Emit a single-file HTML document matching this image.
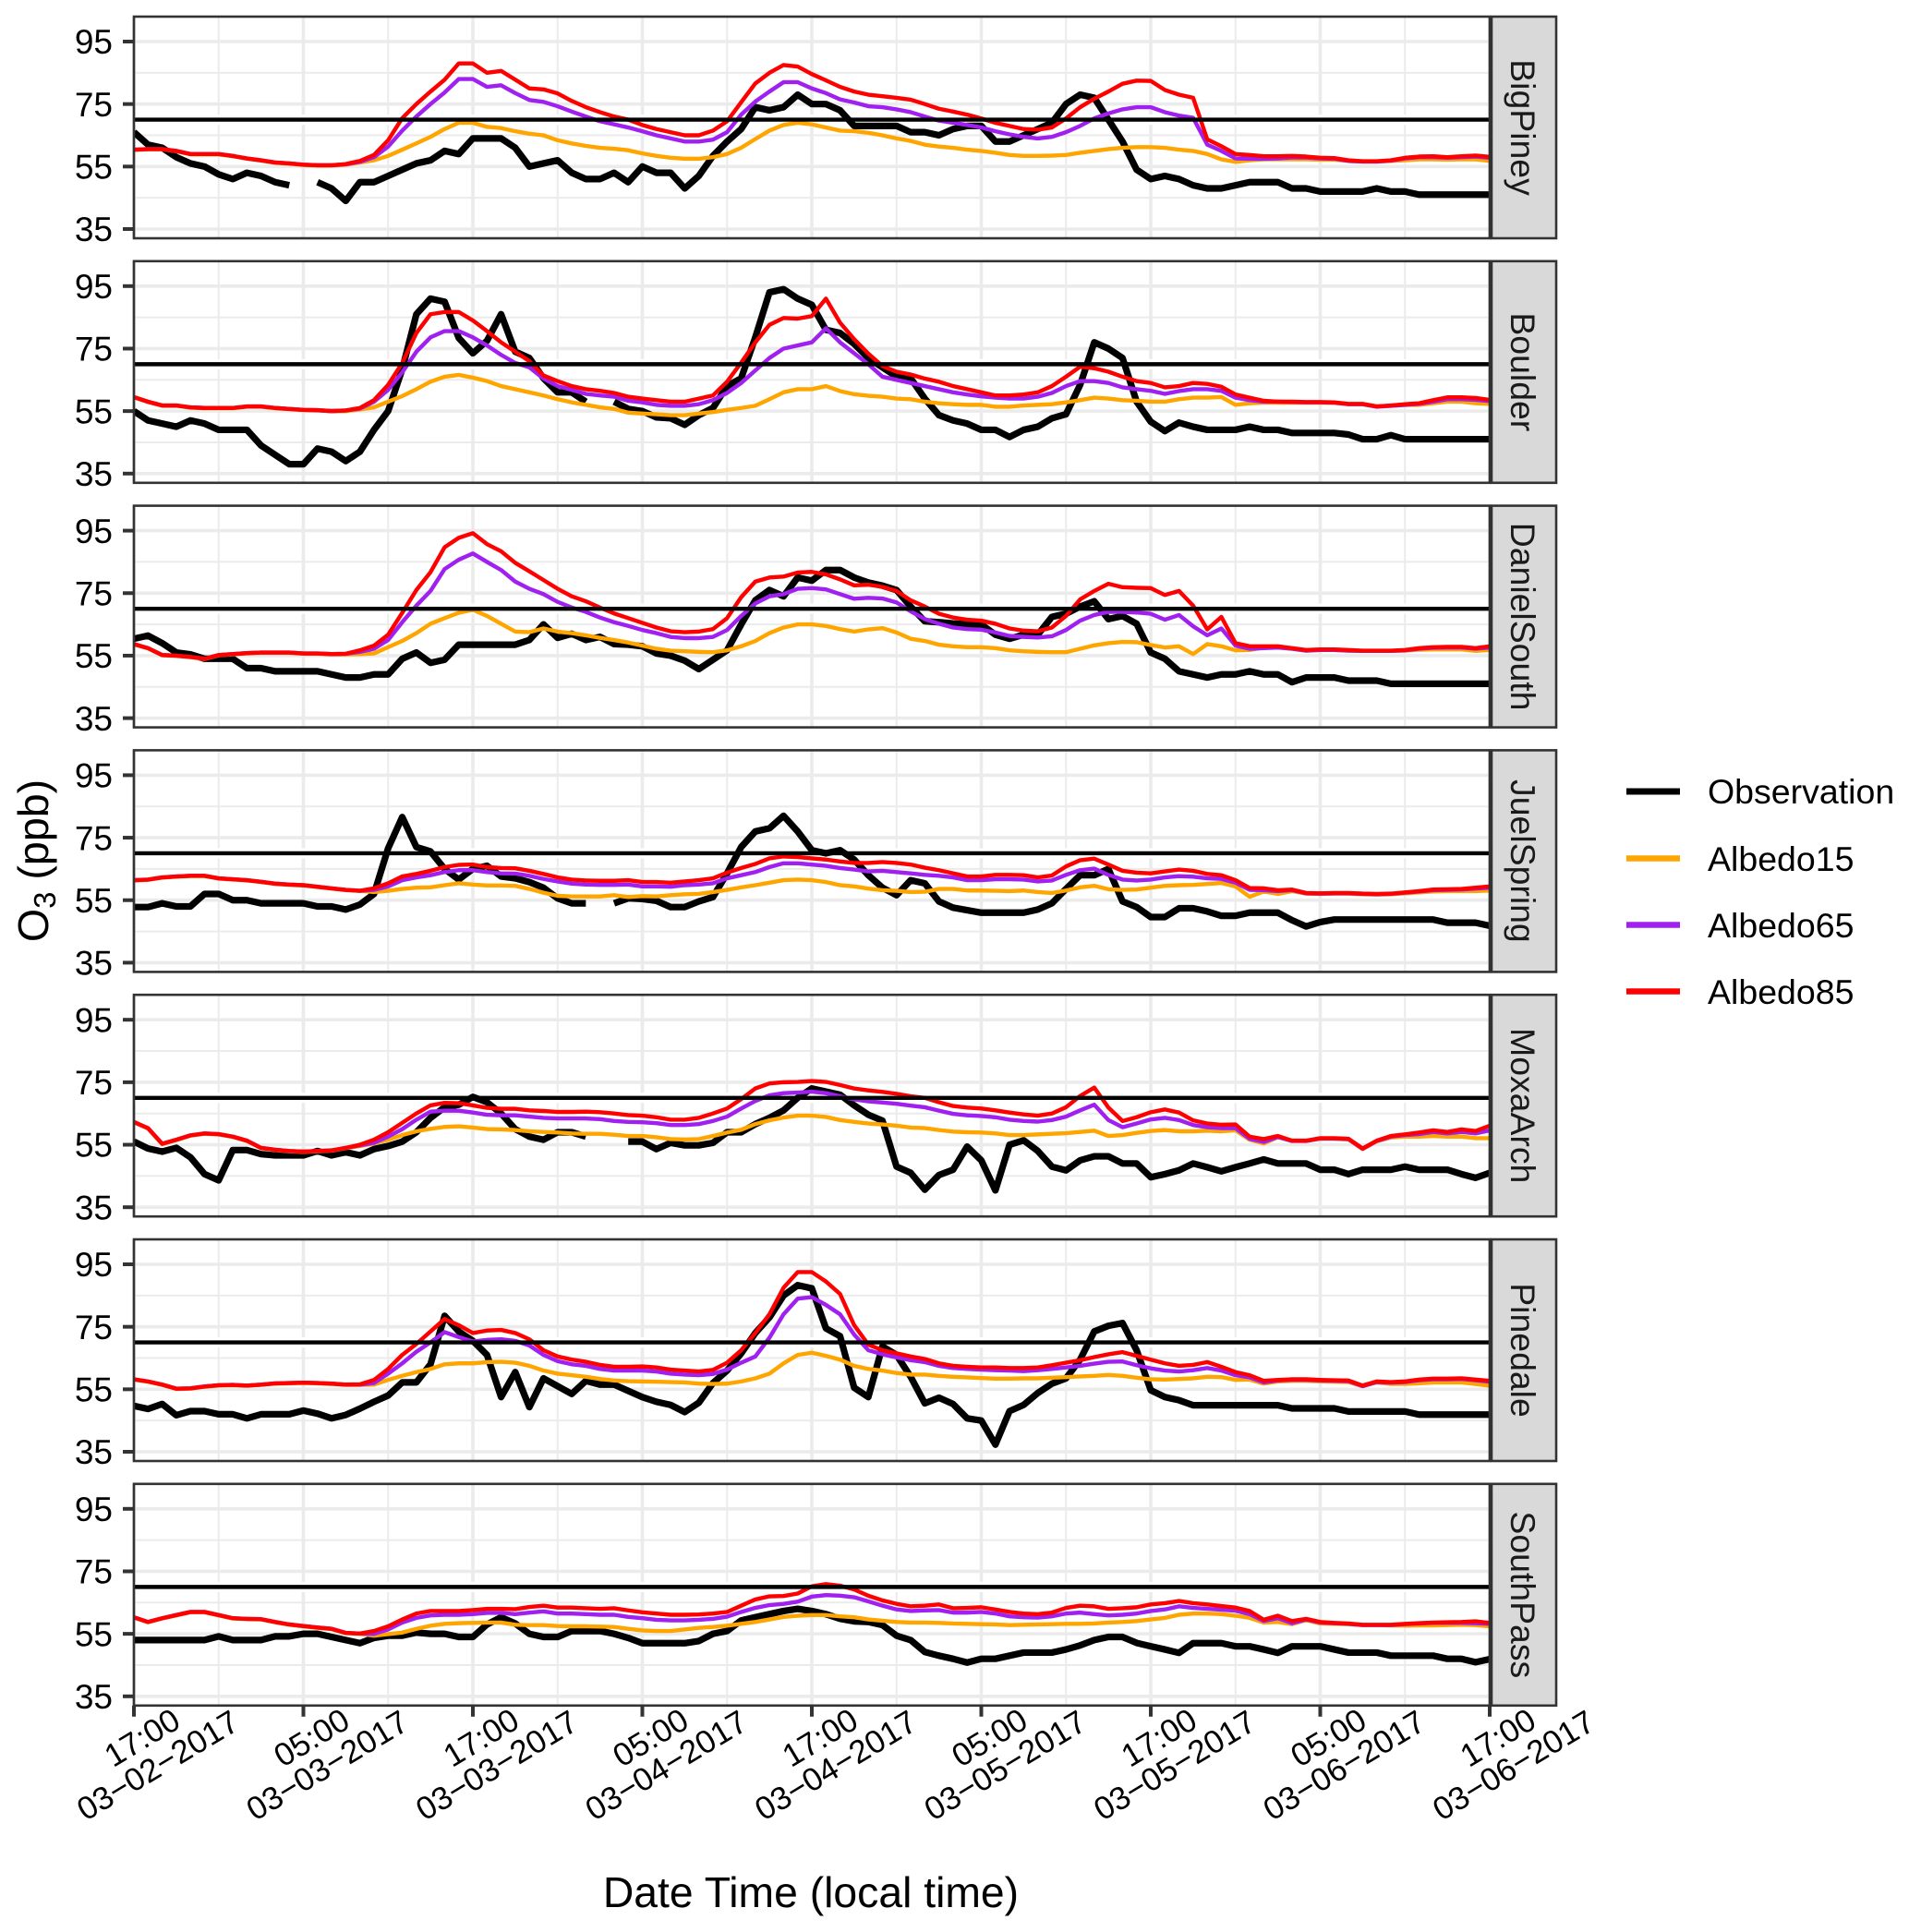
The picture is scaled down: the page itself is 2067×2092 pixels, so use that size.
<!DOCTYPE html>
<html lang="en">
<head>
<meta charset="utf-8">
<title>Ozone observations and Albedo model runs by site</title>
<style>
html,body{margin:0;padding:0;background:#fff;}
svg{display:block;font-family:"Liberation Sans",Arial,sans-serif;}
</style>
</head>
<body>
<svg id="chart" xmlns="http://www.w3.org/2000/svg" width="2067" height="2092" viewBox="0 0 2067 2092">
  <rect x="0" y="0" width="2067" height="2092" fill="#fff"/>
  <g id="panels"></g>
  <g id="xaxis"></g>
  <text x="878" y="2065" font-size="46.3" text-anchor="middle" fill="#000">Date Time (local time)</text>
  <text transform="translate(52,932) rotate(-90)" font-size="46.6" text-anchor="middle" fill="#000">O<tspan font-size="33" dy="8">3</tspan><tspan dy="-8"> (ppb)</tspan></text>
  <g>
    <g>
      <line x1="1761" x2="1819" y1="857" y2="857" stroke="#000" stroke-width="7"/>
      <text x="1849" y="870" font-size="37.5" fill="#000">Observation</text>
    </g>
    <g>
      <line x1="1761" x2="1819" y1="929.5" y2="929.5" stroke="#FFA500" stroke-width="6.5"/>
      <text x="1849" y="943" font-size="37.5" fill="#000">Albedo15</text>
    </g>
    <g>
      <line x1="1761" x2="1819" y1="1001.5" y2="1001.5" stroke="#A020F0" stroke-width="6.5"/>
      <text x="1849" y="1015" font-size="37.5" fill="#000">Albedo65</text>
    </g>
    <g>
      <line x1="1761" x2="1819" y1="1073.5" y2="1073.5" stroke="#FF0000" stroke-width="6.5"/>
      <text x="1849" y="1087" font-size="37.5" fill="#000">Albedo85</text>
    </g>
  </g>
</svg>
<script>
// ---------- categories and tick labels ----------
const sites = ["BigPiney","Boulder","DanielSouth","JuelSpring","MoxaArch","Pinedale","SouthPass"];
const seriesNames = ["Observation","Albedo15","Albedo65","Albedo85"];
const yMajorTicks = [35,55,75,95];
const yMinorTicks = [45,65,85];
const xMajorHours = [0,12,24,36,48,60,72,84,96];
const xMinorHours = [6,18,30,42,54,66,78,90];
const xTickTimes = ["17:00","05:00","17:00","05:00","17:00","05:00","17:00","05:00","17:00"];
const xTickDates = ["03−02−2017","03−03−2017","03−03−2017","03−04−2017","03−04−2017","03−05−2017","03−05−2017","03−06−2017","03−06−2017"];
const ozoneStandard = 70;

// ---------- hourly ozone values (ppb), 97 per series ----------
const bigPineyObservation = [
66,62,61,58,56,55,52.5,51,53,52,50,49,
null,50,48,44,50,50,52,54,56,57,60,59,
64,64,64,61,55,56,57,53,51,51,53,50,
55,53,53,48,52,58.4,63,67,74,73,74,78,
75,75,73,68,68,68,68,66,66,65,67,68,
68,63,63,65,67,69,75,78,77,70,63,54,
51,52,51,49,48,48,49,50,50,50,48,48,
47,47,47,47,48,47,47,46,46,46,46,46,
46];
const bigPineyAlbedo15 = [
60.3,60.5,60.5,59.9,58.9,58.9,58.9,58.3,57.5,56.9,56.2,55.9,
55.5,55.3,55.3,55.6,56.3,57,58.4,60.4,62.4,64.5,67,69,
69,67.7,67.3,66.3,65.5,65,63.4,62.4,61.6,61,60.7,60.2,
59.2,58.4,57.8,57.5,57.5,58,59,61,63.8,66.5,68.3,69,
68.5,67.5,66.5,66.3,65.8,65,64,63.2,62,61.4,61,60.4,
60,59.4,58.7,58.4,58.4,58.5,58.7,59.4,60,60.6,61,61.2,
61.2,61,60.4,60,59,57.3,56.5,57,57.3,57.3,57.3,57.3,
57.2,57.2,56.8,56.6,56.6,56.8,57,57.3,57.3,57.2,57.3,57.3,
56.8];
const bigPineyAlbedo65 = [
60.4,60.6,60.6,60,59,59,59,58.4,57.6,57,56.3,56,
55.6,55.4,55.4,55.7,56.5,58,61.4,66.5,71,75,78.7,83,
83,80.5,81,78.5,76.3,75.7,74.3,72.6,71,69.5,68.5,67.5,
66.3,65,64,63,63,63.6,66,71.6,75.8,79,82,82,
80,78.5,76.5,75.5,74.3,74,73.3,72.4,71,69.7,69,68.3,
67.5,66.3,65.3,64.5,64,64.5,66,68,70.4,72,73.3,74,
74,72.4,71.3,70.6,62,60,57.6,57.5,57.5,57.6,57.9,57.9,
57.6,57.5,56.8,56.6,56.6,56.9,57.6,58,58,57.8,58,58.2,
57.8];
const bigPineyAlbedo85 = [
60.4,60.6,60.6,60,59,59,59,58.4,57.6,57,56.3,56,
55.6,55.4,55.4,55.8,56.8,58.7,63.4,70.5,75,79,82.8,88,
88,85,85.6,82.8,80,79.7,78.4,76,74,72.4,71,70,
68.3,67,66,65,65,66.5,69.5,75.6,81.6,85,87.5,87,
84.6,82.6,80.5,79,78,77.5,77,76.4,75,73.5,72.6,71.6,
70.4,69,68,67,66.8,67.5,70.4,74,76.7,79,81.5,82.5,
82.4,79.5,78,77,63.7,61.5,59,58.7,58.3,58.3,58.4,58.2,
57.8,57.7,57,56.7,56.7,57,57.8,58.2,58.3,58,58.3,58.5,
58.1];

const boulderObservation = [
55,52,51,50,52,51,49,49,49,44,41,38,
38,43,42,39,42,49,55,68.4,86,91,90,78.4,
73.5,77.5,86,74,72,65.5,61,61,58,null,58,55.7,
55,53,52.7,50.6,53.7,56,63,65.5,78.6,93,94,91,
89,81,80,76.5,72,69,66,65.5,59,53.7,52,51,
49,49,46.7,49,50,52.7,54,63.4,77,75,72,58,
51.6,48.6,51.3,50,49,49,49,50,49,49,48,48,
48,48,47.5,46,46,47.3,46,46,46,46,46,46,
46];
const boulderAlbedo15 = [
59.4,57.9,56.7,56.7,56.1,55.9,55.9,55.9,56.4,56.4,55.9,55.6,
55.3,55.2,55,55,55.5,56.2,58,59.8,62,64.4,66,66.6,
65.7,64.6,63,62,61,60,58.8,57.8,57,56.2,55.7,54.5,
54.2,54,53.7,53.7,54.2,54.7,55.4,56,56.7,58.8,61,62,
62,63,61.4,60.4,59.9,59.6,59,58.8,58,57.5,57.2,57,
57,56.4,56.4,56.8,57,57.2,57.8,58.5,59.3,59,58.5,58.3,
58,58,58.8,59.3,59.3,59.5,57,57.5,57.7,57.7,57.7,57.7,
57.7,57.6,57.2,57.2,56.5,56.7,57,57,57.5,58,58,57.5,
57.3];
const boulderAlbedo65 = [
59.5,58,56.8,56.8,56.2,56,56,56,56.5,56.5,56,55.7,
55.4,55.3,55,55.2,55.8,58,61.8,67.4,74,78.6,80.6,80.6,
78.6,76,73,70.4,69,65.4,63,61.8,60.5,60,59.6,58.3,
57.8,57,56.7,56.7,57.2,58.5,60.8,64,68,72,75,76,
77,81.5,77,73.5,70,66,65,64,63,62,61,60.3,
59.7,59.3,59,59,59.6,60.8,63,64.6,64.6,64,62.6,62,
61.5,60.5,61.4,62,62,61.5,59.3,58.5,58,58,57.9,57.8,
57.8,57.7,57.2,57.2,56.4,56.7,57,57.3,58,58.8,58.8,58.6,
58.2];
const boulderAlbedo85 = [
59.5,58,56.8,56.8,56.2,56,56,56,56.5,56.5,56,55.7,
55.4,55.3,55,55.2,56,58.5,63.4,70.4,80,86,86.7,86.7,
84,80.6,77,74,71,66.4,64.6,63,62,61.5,60.8,59.6,
59,58.5,58,58,59,60,64.4,70.5,77,82.6,84.8,84.6,
85.4,91,83.3,78,73.4,69.4,67.6,66.7,65.4,64.4,63,62,
61,60,60,60.3,61,63,66,69.2,68.7,67.6,66,64.6,
64,62.6,63,64,63.7,62.8,60.3,59.3,58.3,58,58,57.9,
57.9,57.8,57.3,57.3,56.5,56.8,57.2,57.5,58.5,59.4,59.4,59.2,
58.6];

const danielSouthObservation = [
60.4,61.4,59,56,55.4,54,54,54,51,51,50,50,
50,50,49,48,48,49,49,54,56,52.7,53.7,58.5,
58.5,58.5,58.5,58.5,60,65,60.7,62,60,61,58.7,58.5,
58,55.7,55,53.4,50.7,53.7,56.7,65,72.7,76,74,80,
79,82.4,82.4,80,78.4,77.4,76,70.7,66,65.7,65.3,65,
65,61.7,60.4,61.7,61.7,67.4,68.4,70.7,72.4,66.7,67.7,65.2,
56,54,50,49,48,49,49,50,49,49,46.5,48,
48,48,47,47,47,46,46,46,46,46,46,46,
46];
const danielSouthAlbedo15 = [
58.6,57.3,55.1,54.9,54.5,53.9,55.1,55.4,55.7,55.9,55.9,55.9,
55.6,55.6,55.4,55.4,55.5,55.7,57.7,59.7,62.2,65.2,67,68.7,
69.7,67.7,65.2,62.7,62.5,63.7,62.7,62.2,61.5,60.7,60,59.2,
58.2,57.2,56.6,56.4,56.2,56.1,56.7,58,59.7,62.2,64,65,
65,64.5,63.5,62.7,63.4,63.8,62.4,60.4,59.7,58.5,58,57.7,
57.7,57.4,56.7,56.4,56.2,56.1,56.1,57.2,58.3,59,59.4,59.3,
58.4,57.6,58,55.5,58.7,58,56.7,56.8,57.6,57.8,57.2,56.6,
56.8,56.8,56.6,56.5,56.5,56.5,56.6,56.9,57,57,57,56.5,
56.8];
const danielSouthAlbedo65 = [
58.7,57.4,55.2,55,54.6,54,55.2,55.5,55.8,56,56,56,
55.7,55.7,55.5,55.6,56.2,57.2,60,65.7,71,75.7,82.7,85.7,
87.7,85,82.4,78.7,76.4,74.7,72.2,70.4,69,67.2,65.7,64.5,
63.2,62.2,61,60.6,60.6,61,63.2,67.7,71.7,74,74.7,76.4,
76.6,76.2,74.7,73.2,73.5,73.3,72,69.2,66.7,65.2,64,63.5,
63.3,62.4,61.3,61,60.8,61.2,63.2,66.2,68,69,69,68.8,
68.4,66.5,68,64.4,61.5,63.7,58.2,57.2,57.4,57.6,57.2,56.6,
56.8,56.8,56.6,56.5,56.5,56.5,56.7,57.2,57.5,57.6,57.6,57.2,
57.6];
const danielSouthAlbedo85 = [
58.7,57.4,55.2,55,54.6,54,55.2,55.5,55.8,56,56,56,
55.7,55.7,55.5,55.6,56.7,58.2,61.7,68.7,76,81.7,89.7,92.7,
94.2,90.7,88.4,84.7,82,79.2,76.4,74,72.4,70.4,68.5,67,
65.5,64,62.8,62.5,62.7,63.5,67,73.7,78.7,80,80.3,81.6,
81.8,81,79.4,77.5,77.7,77,75.7,72.7,70.7,68.4,67.2,66.5,
66.2,65.2,63.7,63,62.8,64,67.7,73,75.7,78,76.9,76.7,
76.6,74.4,75.7,71,63.4,67.4,59,58,58,58,57.4,56.8,
57,57,56.8,56.6,56.6,56.6,56.8,57.4,57.7,57.8,57.8,57.4,
58];

const juelSpringObservation = [
52.8,52.8,54,53,53,57,57,55,55,54,54,54,
54,53,53,52,53.6,57,71.6,81.6,72,70.6,65,61.6,
65,66,62.6,62,60.8,59,55.6,54,54,null,54,55.6,
55.4,54.8,52.8,52.8,54.6,56,63.6,72,77,78,82,77,
71,70,71,68,63,59,56.6,61.4,60.4,54.6,52.6,51.8,
51,51,51,51,52,54,58.6,63,63,65,54.6,52.8,
49.6,49.6,52.4,52.4,51.4,50,50,51,51,51,48.6,46.6,
48,48.8,48.8,48.8,48.8,48.8,48.8,48.8,48.8,47.8,47.8,47.8,
46.8];
const juelSpringAlbedo15 = [
61.3,61.5,62.2,62.5,62.7,62.7,61.9,61.6,61.3,60.8,60.2,59.9,
59.7,59.2,58.7,58.2,58,57.6,58,58.6,59,59.1,59.8,60.4,
60,59.7,59.7,59.6,58.6,57.4,56.4,56.2,56.2,56.2,56.6,56,
56.3,56.2,56.6,56.9,57,57.6,58.3,59.1,59.8,60.6,61.4,61.6,
61.4,60.8,59.8,59.4,58.7,58.2,58,57.6,57.7,58.6,58.6,58.1,
58.1,58,57.9,58.1,57.6,57.3,58.1,59.1,59.6,58.5,58.3,58.4,
59,59.6,59.8,59.9,60.2,60.5,59.4,56.1,57.8,57,57.9,57.1,
57,57.1,57.1,56.9,56.8,56.9,57.2,57.5,57.8,57.9,57.9,57.9,
58.1];
const juelSpringAlbedo65 = [
61.4,61.6,62.3,62.6,62.8,62.8,62,61.7,61.4,60.9,60.3,60,
59.8,59.3,58.8,58.3,58,58.3,59.4,61.4,62.3,63,64,64.6,
64.6,64,63.6,63.5,62.8,61.8,61,60.3,60,59.9,59.9,60,
59.4,59.4,59.3,59.8,60,60.4,62,63,64,65.6,66.8,66.8,
66.4,66,65.3,64.8,64.2,64.4,64,63.6,63.1,62.8,62.3,61.4,
61.4,61.7,61.7,61.6,61,61.3,63.1,64.6,65.1,63.1,61.6,61.3,
61.6,62.3,62.7,62.5,62,61.8,60.6,58.3,58.2,57.9,58.2,57.2,
57.1,57.2,57.2,57,56.9,57,57.4,57.8,58.2,58.3,58.4,58.7,
59];
const juelSpringAlbedo85 = [
61.4,61.6,62.3,62.6,62.8,62.8,62,61.7,61.4,60.9,60.3,60,
59.8,59.3,58.8,58.3,58,58.8,60.4,62.6,63.4,64.4,65.6,66.3,
66.4,65.6,65.3,65.2,64.4,63.4,62.3,61.6,61.3,61.2,61.2,61.4,
60.8,60.8,60.6,61,61.4,62,63.8,65.3,66.6,68.4,69,68.8,
68.4,68,67.4,66.9,66.9,67.2,66.9,66.4,65.4,64.6,63.6,62.6,
62.6,63.1,63.1,63,62.3,62.9,65.8,67.8,68.3,66.4,64.4,63.8,
63.6,64.2,64.8,64.4,63.4,63,61.4,58.9,58.8,58.2,58.4,57.3,
57.2,57.3,57.3,57.1,57,57.1,57.5,57.9,58.4,58.5,58.6,59,
59.4];

const moxaArchObservation = [
56,53.8,52.8,54,51,45.6,43.6,53.3,53.3,52,51.6,51.6,
51.6,53,51.6,52.6,51.6,53.6,54.6,56,59,63.6,67,67.8,
70.3,68.6,65,60,57.6,56.6,59,59,57.6,null,null,56,
56,53.6,55.6,54.8,54.8,55.6,59,59,61.6,63.6,66,70,
73,72,71,67.6,64.6,62.7,48,46,40.6,45.3,47,54.4,
50,40.4,55,56.4,53,48,46.8,50,51.3,51.3,49,49,
44.6,45.6,46.8,49,47.8,46.5,47.8,49,50.3,49,49,49,
47,47,45.6,47,47,47,48,47,47,47,45.6,44.4,
46];
const moxaArchAlbedo15 = [
62.2,60.2,55.2,56.5,57.9,58.5,58.3,57.5,56.2,53.9,53.3,52.9,
52.7,52.9,53.1,53.9,54.6,55.4,56.6,58.1,59.3,60.1,60.7,60.9,
60.5,60,59.9,59.7,59.3,59.1,58.9,58.6,58.5,58.5,58.2,57.8,
57.8,57.4,56.8,56.7,56.8,57.8,58.9,59.8,61.6,62.8,63.7,64.3,
64.3,63.9,62.9,62.3,61.8,61.5,61.1,60.5,60.3,59.7,59.2,59,
58.9,58.6,58.1,58.1,58.3,58.5,58.7,59.1,59.5,57.8,58.1,58.8,
59.4,59.7,59.3,59.3,59.5,59.3,59.6,56.6,55.4,57.4,56.3,56.2,
56.9,56.9,56.7,53.6,56.1,57.3,57.6,57.6,57.8,57.6,57.6,57.1,
57.1];
const moxaArchAlbedo65 = [
62.3,60.3,55.3,56.6,58,58.6,58.4,57.6,56.3,54,53.4,53,
52.8,53,53.2,54,54.8,55.6,57.6,60,63,65.6,65.9,65.9,
65.3,64.6,64.4,64.4,64,63.6,63.4,63.4,63.4,63.2,62.6,62.3,
62.2,61.9,61.3,61.3,61.6,62.6,64,66.6,69,70.8,71.5,71.7,
72,71.5,70.5,69.5,68.9,68.5,68.1,67.5,67,65.9,64.9,64.4,
64.2,63.8,63,62.6,62.4,62.9,64,66,67.8,62.9,60.6,61.8,
63.1,63.6,62.9,61.3,60.6,60.3,60.3,56.9,55.9,57.5,56.2,56.2,
57,57,56.8,53.7,56.2,57.6,58.1,58.4,59.1,58.6,59.1,58.6,
59.6];
const moxaArchAlbedo85 = [
62.3,60.3,55.3,56.6,58,58.6,58.4,57.6,56.3,54,53.4,53,
52.8,53,53.2,54,55,56.6,59,62,65,67.6,68.4,68.3,
67.6,66.8,66.5,66.5,66,65.8,65.5,65.5,65.6,65.4,65,64.5,
64.3,63.8,63,63,63.6,65,66.6,69.6,73,74.6,75,75.1,
75.4,75.1,74.1,73,72.4,71.9,71.3,70.5,70,68.6,67.4,66.9,
66.6,66,65.3,64.7,64.3,65,67,70.6,73.3,66.9,62.6,63.8,
65.4,66.3,65.3,62.8,61.8,61.4,61.5,57.6,56.8,57.8,56.3,56.3,
57.1,57.1,56.9,53.8,56.3,57.8,58.3,58.9,59.6,59.1,59.9,59.4,
61.1];

const pinedaleObservation = [
49.7,48.7,50.3,46.7,48,48,47,47,45.7,47,47,47,
48.2,47.2,45.7,46.8,48.8,51,53,57.2,57.2,63,78.5,73.5,
70.5,66,52.5,60.5,49.3,58.5,56,53.5,57.7,56.5,56.5,54.5,
52.5,51,50,47.7,50.7,57,61,66.5,73,78,85,88.3,
87.3,74.5,72,55.5,52.5,68.7,66,59,50.5,52.3,50.3,45.7,
45,37.3,48,50,53.8,56.8,58.5,64.5,73.5,75.3,76.2,67.5,
54.7,52.5,51.5,49.9,49.9,49.9,49.9,49.9,49.9,49.9,48.9,48.9,
48.9,48.9,47.9,47.9,47.9,47.9,47.9,46.9,46.9,46.9,46.9,46.9,
46.9];
const pinedaleAlbedo15 = [
58.1,57.4,56.4,55.1,55.2,55.8,56.2,56.3,56.1,56.4,56.8,56.9,
57,56.9,56.7,56.4,56.4,56.5,58,59.3,60.5,61.5,63,63.3,
63.3,63.7,63.8,63.5,62.5,61,60,59.5,59,58.3,57.8,57.6,
57.5,57.4,57.3,57.2,56.8,56.7,56.8,57.5,58.5,60,63.3,66,
66.7,65.7,64.5,62.5,61.5,61,60.2,59.7,59.7,59.3,59,58.8,
58.6,58.4,58.4,58.5,58.5,58.7,58.9,59.1,59.3,59.6,59.3,58.7,
58.2,58.1,58.3,58.5,59,58.9,58,58.1,56.8,57.5,57.7,57.7,
57.5,57.4,57.3,56,57.2,56.7,56.7,56.9,57.2,57.2,57.2,56.7,
56.1];
const pinedaleAlbedo65 = [
58.2,57.5,56.5,55.2,55.3,55.9,56.3,56.4,56.2,56.5,56.9,57,
57.1,57,56.8,56.5,56.5,57,60,63.3,67,70,73.3,71.7,
70.3,70.8,71,70.5,69,66,64,63,62.5,61.5,61,61,
61,60.7,60,59.7,59.5,59.9,61.3,63.5,65.5,71.5,79,84,
84.5,82,79,72.5,67.5,66.2,65.2,64.3,63.7,62.5,61.8,61.5,
61.3,61.1,61,60.8,61.1,61.5,62,62.5,63.2,63.8,63.9,62.7,
61.7,61,60.7,61.1,61.8,61,59.5,58.8,57.2,57.8,58,58,
57.8,57.7,57.6,56,57.3,57.1,57.3,57.9,58.2,58.2,58.3,57.9,
57.4];
const pinedaleAlbedo85 = [
58.2,57.5,56.5,55.2,55.3,55.9,56.3,56.4,56.2,56.5,56.9,57,
57.1,57,56.8,56.5,56.6,58,61.5,66,69.5,73.5,77.5,75.5,
73,73.8,74,73,71,67.5,65.5,64.5,63.8,62.8,62.2,62.2,
62.3,62,61.3,61,60.7,61.2,63.5,67.5,73,79,87.5,92.5,
92.5,89.5,85.5,75.5,69.3,67.5,66.5,65.5,64.7,63.3,62.5,62.2,
62,62,61.8,61.8,62,62.7,63.5,64.3,65.3,66.2,66.9,65.7,
64.5,63.3,62.5,62.8,63.7,62.2,60.5,59.5,57.7,58,58.2,58.2,
58,57.9,57.8,56.2,57.5,57.3,57.5,58.1,58.4,58.4,58.5,58.1,
57.7];

const southPassObservation = [
53,53,53,53,53,53,54.2,53,53,53,54.2,54.2,
55,55,54,53,52,53.7,54.4,54.4,55.4,55,55,54,
54,58,60.3,58.3,55,54,54,55.9,55.9,55.9,55,53.7,
52,52,52,52,52.7,55,55.9,59.3,60.3,61.3,62.3,63,
62.3,61.3,59.8,59,58.8,57.8,54.4,53,49.2,48,47,45.8,
47,47,48,49,49,49,50,51.3,53,54,54,52.1,
51,50,48.9,52,52,52,51,51,50,48.9,51,51,
51,50,49,49,49,48,48,48,48,47,47,45.9,
46.9];
const southPassAlbedo15 = [
60.2,58.7,59.9,60.9,61.9,61.9,60.9,59.9,59.7,59.6,58.7,57.9,
57.4,56.9,56.5,55.2,55,54.4,54.9,55.4,56.6,57.6,58.2,58.4,
58.5,58.6,58.6,57.9,57.8,57.8,57.5,57.4,57.4,57.3,57.2,56.6,
56.1,55.9,55.9,56.4,56.9,57.2,57.6,58.2,58.8,59.6,60.4,60.8,
61,61,60.6,60.3,59.6,59.2,58.8,58.6,58.6,58.5,58.3,58.2,
58.1,58,57.8,57.9,58,58.1,58.2,58.2,58.3,58.6,58.8,59.1,
59.6,60.1,61.1,61.5,61.5,61.3,60.8,60.1,58.6,58.8,58.1,59.4,
58.3,58.2,58.1,57.8,57.8,57.7,57.6,57.7,57.7,57.8,57.9,57.8,
57.4];
const southPassAlbedo65 = [
60.3,58.8,60,61,62,62,61,60,59.8,59.7,58.8,58,
57.5,57,56.6,55.3,55.1,55,56.4,58.6,60.1,60.9,61.1,61.1,
61.3,61.7,61.7,61.3,61.8,62.2,61.5,61.5,61.3,61.1,61.1,60.4,
60,59.5,59.3,59.3,59.5,59.8,60.5,62,63.3,64.2,64.6,65.3,
66.9,67.4,67.2,66.7,65.4,64,62.8,62.3,62.5,62.6,61.8,61.8,
62,61.5,60.6,60.3,60.2,60.6,61.5,61.8,61.3,60.9,61.1,61.5,
62.3,62.8,63.8,63.3,63,62.7,62.4,61.3,59.1,60,58.4,59.6,
58.6,58.4,58.2,57.8,57.8,57.8,58.1,58.3,58.5,58.5,58.5,58.4,
58.2];
const southPassAlbedo85 = [
60.3,58.8,60,61,62,62,61,60,59.8,59.7,58.8,58,
57.5,57,56.6,55.3,55.1,55.9,57.4,59.6,61.5,62.3,62.3,62.3,
62.6,63,63,62.9,63.6,64,63.4,63.4,63.2,63,63.2,62.5,
61.9,61.5,61.1,61.1,61.2,61.5,62,64,66,67,67.1,67.9,
70.2,70.9,70.4,69.2,67.2,65.7,64.6,63.8,64,64.4,63.2,63.3,
63.5,62.8,62,61.5,61.3,61.8,63.3,64,63.8,63,63.2,63.5,
64.4,64.8,65.5,64.8,64.4,63.9,63.4,62.3,59.5,60.8,59.1,59.8,
58.8,58.5,58.3,57.9,57.9,57.9,58.2,58.4,58.6,58.7,58.8,59,
58.5];

const siteSeries = [
  [bigPineyObservation, bigPineyAlbedo15, bigPineyAlbedo65, bigPineyAlbedo85],
  [boulderObservation, boulderAlbedo15, boulderAlbedo65, boulderAlbedo85],
  [danielSouthObservation, danielSouthAlbedo15, danielSouthAlbedo65, danielSouthAlbedo85],
  [juelSpringObservation, juelSpringAlbedo15, juelSpringAlbedo65, juelSpringAlbedo85],
  [moxaArchObservation, moxaArchAlbedo15, moxaArchAlbedo65, moxaArchAlbedo85],
  [pinedaleObservation, pinedaleAlbedo15, pinedaleAlbedo65, pinedaleAlbedo85],
  [southPassObservation, southPassAlbedo15, southPassAlbedo65, southPassAlbedo85]
];

// ---------- layout and scales ----------
const NS = "http://www.w3.org/2000/svg";
const plotLeft = 145, plotRight = 1613, stripLeft = 1615, stripRight = 1685;
const panelTop0 = 18, panelStep = 264.8, panelHeight = 240;
const seriesColors = ["#000000","#FFA500","#A020F0","#FF0000"];
const seriesWidths = [7.2,4.4,4.4,4.4];

function xScale(h){ return plotLeft + h * (plotRight - plotLeft) / 96; }
function yScale(v, top){ return top + 27 + (95 - v) * 203 / 60; }
function seriesPath(values, top){
  let d = "", pen = false;
  values.forEach(function(v, i){
    if (v === null) { pen = false; return; }
    d += (pen ? "L" : "M") + xScale(i).toFixed(2) + " " + yScale(v, top).toFixed(2);
    pen = true;
  });
  return d;
}
function make(parent, tag, attrs){
  const el = document.createElementNS(NS, tag);
  Object.keys(attrs).forEach(function(k){ el.setAttribute(k, attrs[k]); });
  parent.appendChild(el);
  return el;
}
function slug(s){ return s.replace(/([a-z])([A-Z])/g, "$1-$2").toLowerCase(); }

const panelsGroup = document.getElementById("panels");
const xaxisGroup = document.getElementById("xaxis");

sites.forEach(function(site, p){
  const top = panelTop0 + p * panelStep;
  const bottom = top + panelHeight;
  const key = slug(site);

  const g = make(panelsGroup, "g", {});
  
  

  const bg = make(g, "rect", {x:plotLeft, y:top, width:plotRight-plotLeft, height:panelHeight, fill:"#fff"});
  
  

  const clip = make(g, "clipPath", {id:"clip" + p});
  make(clip, "rect", {x:plotLeft, y:top, width:plotRight-plotLeft, height:panelHeight});

  yMinorTicks.forEach(function(v){
    const l = make(g, "line", {x1:plotLeft, x2:plotRight, y1:yScale(v,top), y2:yScale(v,top), stroke:"#EBEBEB", "stroke-width":2});
    
    
  });
  xMinorHours.forEach(function(h){
    const l = make(g, "line", {x1:xScale(h), x2:xScale(h), y1:top, y2:bottom, stroke:"#EBEBEB", "stroke-width":2});
    
    
  });
  yMajorTicks.forEach(function(v){
    const l = make(g, "line", {x1:plotLeft, x2:plotRight, y1:yScale(v,top), y2:yScale(v,top), stroke:"#EBEBEB", "stroke-width":3.6});
    
    
  });
  xMajorHours.forEach(function(h){
    const l = make(g, "line", {x1:xScale(h), x2:xScale(h), y1:top, y2:bottom, stroke:"#EBEBEB", "stroke-width":3.6});
    
    
  });

  const halo = make(g, "line", {x1:plotLeft, x2:plotRight, y1:yScale(ozoneStandard,top), y2:yScale(ozoneStandard,top), stroke:"#fff", "stroke-width":11});
  
  

  const lines = make(g, "g", {"clip-path":"url(#clip" + p + ")"});
  
  
  seriesNames.forEach(function(name, s){
    const path = make(lines, "path", {d:seriesPath(siteSeries[p][s], top), fill:"none", stroke:seriesColors[s], "stroke-width":seriesWidths[s], "stroke-linejoin":"round", "stroke-linecap":"butt"});
    
    
  });

  const std = make(g, "line", {x1:plotLeft, x2:plotRight, y1:yScale(ozoneStandard,top), y2:yScale(ozoneStandard,top), stroke:"#000", "stroke-width":4.4});
  
  

  const border = make(g, "rect", {x:plotLeft, y:top, width:plotRight-plotLeft, height:panelHeight, fill:"none", stroke:"#333333", "stroke-width":2.6});
  
  

  const strip = make(g, "rect", {x:stripLeft, y:top, width:stripRight-stripLeft, height:panelHeight, fill:"#D9D9D9", stroke:"#333333", "stroke-width":2.6});
  
  

  const stripText = make(g, "text", {transform:"translate(1636," + (top + panelHeight/2) + ") rotate(90)", "font-size":37.4, "text-anchor":"middle", fill:"#1a1a1a"});
  stripText.textContent = site;
  
  

  yMajorTicks.forEach(function(v){
    const t = make(g, "line", {x1:133, x2:plotLeft, y1:yScale(v,top), y2:yScale(v,top), stroke:"#333333", "stroke-width":4});
    
    
    const lbl = make(g, "text", {x:122, y:yScale(v,top)+13.2, "font-size":37, "text-anchor":"end", fill:"#000"});
    lbl.textContent = String(v);
    
    
  });
});

const axisY = panelTop0 + 6 * panelStep + panelHeight;
xMajorHours.forEach(function(h, i){
  const x = xScale(h);
  const t = make(xaxisGroup, "line", {x1:x, x2:x, y1:axisY, y2:axisY+12, stroke:"#333333", "stroke-width":4});
  
  
  const time = make(xaxisGroup, "text", {transform:"translate(" + (x+15) + "," + (axisY+45) + ") rotate(-31)", "font-size":35, "text-anchor":"middle", fill:"#000"});
  time.textContent = xTickTimes[i];
  
  
  const date = make(xaxisGroup, "text", {transform:"translate(" + (x+32) + "," + (axisY+75) + ") rotate(-31)", "font-size":35, "text-anchor":"middle", fill:"#000"});
  date.textContent = xTickDates[i];
  
  
});
</script>
</body>
</html>
